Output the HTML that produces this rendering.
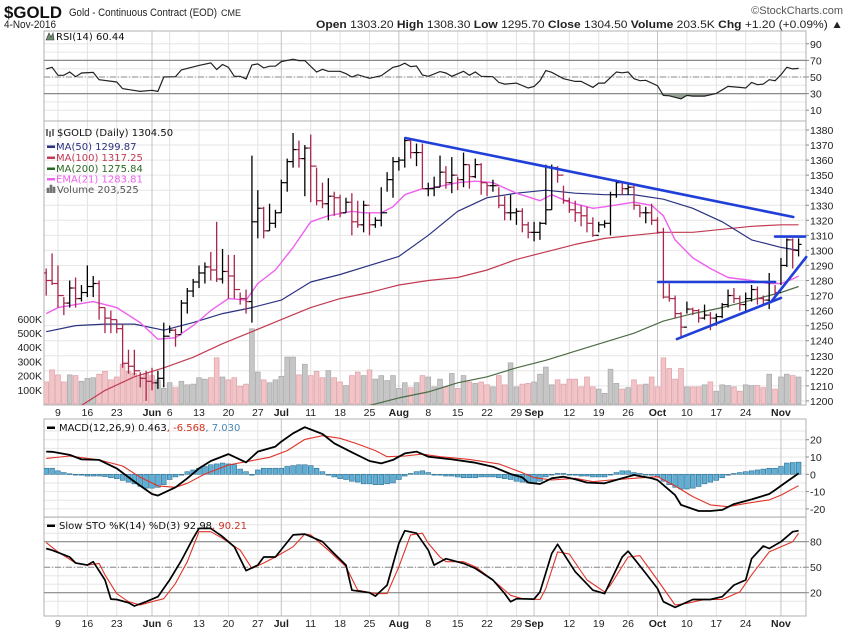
<!DOCTYPE html>
<html><head><meta charset="utf-8"><title>$GOLD chart</title>
<style>
html,body{margin:0;padding:0;background:#fff;}
svg{display:block;}
.ax{font-family:"Liberation Sans",sans-serif;font-size:10.5px;fill:#222;}
.lg{font-family:"DejaVu Sans","Liberation Sans",sans-serif;font-size:10px;}
</style></head>
<body>
<svg id="chart" width="850" height="633" viewBox="0 0 850 633" xmlns="http://www.w3.org/2000/svg">
  <rect x="0" y="0" width="850" height="633" fill="#fff"/>
  <text x="4" y="18" font-family="Liberation Sans, sans-serif" font-size="17" font-weight="bold" textLength="58" lengthAdjust="spacingAndGlyphs" fill="#111">$GOLD</text>
  <text x="69" y="16" font-family="Liberation Sans, sans-serif" font-size="11" textLength="148" lengthAdjust="spacingAndGlyphs" fill="#222">Gold - Continuous Contract (EOD)</text>
  <text x="221" y="16" font-family="Liberation Sans, sans-serif" font-size="9" fill="#222">CME</text>
  <text x="843" y="14" text-anchor="end" font-family="Liberation Sans, sans-serif" font-size="11" fill="#555">©StockCharts.com</text>
  <text x="4" y="28" font-family="Liberation Sans, sans-serif" font-size="11" textLength="52" lengthAdjust="spacingAndGlyphs" fill="#222">4-Nov-2016</text>
  <text x="316" y="28" font-family="Liberation Sans, sans-serif" font-size="11" fill="#222" textLength="527" lengthAdjust="spacingAndGlyphs"><tspan font-weight="bold">Open</tspan> 1303.20 <tspan font-weight="bold">High</tspan> 1308.30 <tspan font-weight="bold">Low</tspan> 1295.70 <tspan font-weight="bold">Close</tspan> 1304.50 <tspan font-weight="bold">Volume</tspan> 203.5K <tspan font-weight="bold">Chg</tspan> +1.20 (+0.09%) ▲</text>
  <g id="layers"></g>
</svg>
<script>
// ---------- data ----------
const closes=[1280,1278,1270,1265,1275,1268,1272,1276,1278,1262,
1255,1254,1248,1225,1223,1220,1215,1213,1212,1215,
1243,1247,1244,1265,1273,1279,1285,1289,1287,1281,
1286,1283,1274,1268,1266,1319,1328,1313,1318,1325,
1345,1359,1367,1361,1368,1356,1333,1331,1336,1335,
1325,1332,1319,1317,1330,1317,1320,1325,1347,1359,
1360,1373,1365,1365,1341,1341,1342,1352,1345,1350,
1347,1357,1349,1357,1345,1343,1343,1330,1325,1325,
1326,1317,1312,1312,1318,1327,1355,1350,1333,1327,
1325,1323,1318,1310,1317,1318,1337,1345,1341,1342,
1330,1325,1325,1320,1312,1269,1268,1258,1249,1261,
1260,1255,1257,1255,1256,1264,1270,1268,1264,1268,
1274,1268,1267,1279,1272,1290,1307,1300,1304];
const opens=[1285,1280,1278,1270,1265,1275,1268,1272,1276,1278,
1262,1255,1254,1248,1225,1223,1220,1215,1213,1212,
1215,1243,1247,1244,1265,1273,1279,1285,1289,1287,
1281,1286,1283,1274,1268,1266,1319,1328,1313,1318,
1325,1345,1359,1367,1361,1368,1356,1333,1331,1336,
1335,1325,1332,1319,1317,1330,1317,1320,1325,1347,
1359,1360,1373,1365,1365,1341,1341,1342,1352,1345,
1350,1347,1357,1349,1357,1345,1343,1343,1330,1325,
1325,1326,1317,1312,1312,1318,1327,1355,1350,1333,
1327,1325,1323,1318,1310,1317,1318,1337,1345,1341,
1342,1330,1325,1325,1320,1312,1269,1268,1258,1249,
1261,1260,1255,1257,1255,1256,1264,1270,1268,1264,
1268,1274,1268,1267,1279,1272,1290,1307,1300];
const highs=[1288,1298,1290,1269,1280,1282,1277,1290,1283,1280,
1262,1260,1254,1251,1234,1234,1219,1220,1222,1220,
1252,1250,1248,1267,1275,1281,1290,1292,1299,1319,
1301,1297,1297,1272,1274,1363,1340,1329,1331,1327,
1347,1361,1378,1373,1370,1377,1355,1345,1348,1339,
1337,1335,1338,1333,1333,1325,1322,1342,1352,1362,
1362,1375,1373,1371,1371,1345,1349,1363,1356,1362,
1349,1365,1357,1361,1358,1345,1347,1342,1336,1337,
1328,1328,1319,1319,1319,1357,1357,1356,1343,1335,
1333,1330,1329,1322,1319,1320,1339,1347,1345,1345,
1343,1330,1329,1331,1322,1315,1278,1270,1259,1266,
1262,1261,1264,1259,1258,1265,1274,1275,1270,1272,
1277,1276,1270,1285,1277,1295,1308,1308,1308];
const lows=[1270,1277,1262,1257,1262,1262,1266,1269,1269,1254,
1245,1245,1245,1222,1218,1217,1209,1200,1207,1208,
1209,1245,1236,1245,1258,1269,1275,1278,1280,1279,
1278,1268,1268,1264,1258,1252,1308,1308,1313,1315,
1325,1339,1355,1355,1336,1332,1330,1328,1320,1323,
1322,1325,1310,1315,1312,1310,1315,1316,1339,1335,
1353,1355,1361,1356,1341,1336,1336,1342,1341,1338,
1340,1342,1341,1348,1337,1336,1339,1328,1320,1320,
1317,1312,1308,1306,1307,1317,1327,1345,1331,1325,
1319,1316,1312,1309,1312,1315,1310,1335,1337,1337,
1327,1322,1318,1317,1311,1268,1266,1255,1242,1258,
1257,1252,1254,1247,1250,1255,1262,1265,1260,1260,
1266,1264,1264,1261,1269,1277,1289,1288,1296];
const volumesK=[155,240,205,155,205,200,160,180,185,210,
230,170,190,280,230,215,190,215,200,170,
110,150,115,160,135,140,185,175,185,325,
190,170,185,125,140,530,225,170,150,170,
195,330,330,205,280,200,230,185,235,185,
155,130,200,225,200,240,175,200,165,200,
110,150,115,150,200,190,120,175,120,215,
110,200,155,145,155,135,120,200,135,290,
120,140,145,155,210,260,135,170,140,175,
175,120,190,120,105,75,245,145,105,115,
170,135,140,190,120,325,250,175,250,120,
120,120,135,155,90,135,130,120,90,135,
130,130,115,210,105,190,210,200,190];
const ma50Days=[0,5,10,15,20,25,30,35,40,45,50,55,60,65,70,75,80,85,90,95,100,105,110,115,120,125,128];
const ma50Vals=[1246,1250,1251,1251,1247,1252,1258,1262,1267,1279,1284,1290,1296,1310,1326,1335,1338,1340,1338,1337,1337,1334,1328,1319,1307,1302,1300];
const ma100Days=[6,10,15,20,25,30,35,40,45,50,55,60,65,70,75,80,85,90,95,100,105,110,115,120,125,128];
const ma100Vals=[1197,1207,1216,1222,1229,1238,1246,1254,1262,1268,1272,1277,1280,1282,1287,1294,1299,1304,1308,1310,1312,1312,1314,1316,1317,1317];
const ma200Days=[55,60,65,70,75,80,85,90,95,100,105,110,115,120,125,128];
const ma200Vals=[1197,1202,1206,1212,1216,1222,1227,1233,1239,1245,1253,1258,1262,1267,1272,1276];
const emaDays=[0,2,5,8,12,16,19,22,25,28,31,34,36,39,42,45,48,52,54,57,59,61,64,65,70,73,76,80,84,86,89,93,95,100,103,105,107,110,113,116,120,123,125,127,128];
const emaVals=[1258,1262,1264,1266,1262,1252,1241,1242,1250,1260,1268,1267,1278,1287,1302,1319,1323,1326,1325,1325,1329,1337,1341,1341,1345,1346,1345,1338,1333,1337,1332,1328,1329,1332,1330,1323,1307,1295,1288,1282,1280,1278,1278,1281,1283];
// trendline annotations: [startDay, startPrice, endDay, endPrice]
const trendLines=[[61.1,1374.7,127.1,1322.2],[104.1,1279,124,1279],[107.3,1241.1,125,1268.4],[124,1309.2,129.1,1309.2],[123.3,1265.7,129.3,1295.6]];
const rsiDays=[0,1,2,3,4,5,6,8,9,12,13,16,18,19,20,22,23,26,28,29,30,31,32,33,34,35,36,37,38,39,40,42,43,44,46,47,48,50,51,52,53,55,57,59,60,61,62,63,64,65,67,68,69,71,72,73,74,76,77,78,80,82,83,84,85,86,88,90,91,93,94,95,97,98,99,100,101,102,104,105,106,108,109,110,112,114,116,118,119,120,121,122,123,124,125,126,127,128];
const rsiVals=[59.7,61.7,52,52,56,50.4,54.8,55.6,46.8,44,36,32.6,34,32.6,50,50.4,58.5,64,67,59,65,61.7,50.8,50.8,47.6,64.5,65.8,61,63,63,68.6,71.4,69.8,69.8,56,59.3,56.9,56.9,54,50,52.8,48.4,51.6,61.7,63.3,66.6,62.5,63.3,52.4,50.8,56.5,54.8,50.8,56.9,52,56,50.8,50.4,43.5,41.5,42.7,36.7,38.7,45.6,57.7,55.7,48,44.7,44.7,37.5,42.7,42.7,56,55,56,48,45.6,46,39.5,27.8,27.4,23.7,27.8,27,27,30.2,38.7,37.5,36.7,43.5,40.7,41.5,46.8,45.6,52.8,61.7,59.7,60.4];
const macdDays=[0,1,4,6,9,12,15,18,19,22,24,26,28,31,34,36,39,40,42,44,47,49,52,55,57,59,61,63,65,69,73,76,79,81,82,84,86,88,90,92,95,98,100,103,104,107,108,111,113,115,117,120,123,124,126,128];
const macdVals=[13.1,13,11.2,8.6,8.3,3.4,-4.2,-11.4,-12.3,-7.5,-2.3,3.4,7.7,11.7,6.9,13.1,16,18.9,23.7,27.2,23.3,17.9,12.7,7.7,6.3,8.3,12.1,13.1,10.2,8.6,6.7,4.4,0.2,-1.8,-4.8,-5.6,-2.3,-1.4,-2.9,-4.8,-5.2,-2.3,-0.4,-2.3,-3.3,-12,-17.7,-21.2,-21.2,-20.6,-17.2,-14.5,-11.4,-9.1,-4.2,0.5];
const signalDays=[0,4,9,13,16,19,22,24,27,31,34,38,41,44,47,50,53,56,58,61,64,67,72,77,81,83,86,90,93,96,100,104,107,110,113,116,119,123,125,128];
const signalVals=[9.2,10.6,8.3,4.8,-1.7,-6.7,-7.5,-5.2,0.2,5.4,7.3,9.8,13.7,20.2,22.3,20.8,17.5,13.7,10.2,10.6,11.7,10.2,8.6,6,0.9,-1.9,-3.3,-2.3,-4.3,-3.3,-2.3,-1.4,-6.7,-12.9,-17.7,-18.7,-16.8,-14.8,-12,-6.6];
const histVals=[3.5,3.5,2,1,0.3,-0.3,-0.5,-1,-1,-1,
-1.3,-2,-2.5,-3.5,-4.5,-5.5,-7,-8,-8,-7.5,
-6,-3,-1.5,0,1.5,2.5,3.5,4.5,5.5,6,
6.5,6,5.5,3,1.5,0,2.5,3.5,3.5,3.5,
3.5,4.5,5,5.5,5.5,5,3.5,1.5,0,-1.5,
-2.5,-3,-4,-4.5,-5.5,-5.5,-6,-6,-5.5,-5,
-3,-1,0.5,1.5,2,1,0,-0.5,-1,-1,
-1.5,-2,-2,-2,-1.5,-1.5,-1.5,-2,-2.5,-3,
-4,-4.5,-5,-5,-4,-1.5,0,0.5,0.5,0,
-0.5,-1,-1,-1.5,-1.5,-1.5,0,1,2,2,
1,0.5,0,-0.5,-1.5,-4,-6,-7.5,-8.5,-8.5,
-8,-7,-5.5,-4.5,-3.5,-2,-0.5,0.5,1,1.5,
2,2.5,3,3.5,3.5,4.5,6.5,6.8,7.0];
const stoKDays=[0,1,4,5,7,8,10,11,12,14,15,17,19,21,23,25,26,28,30,32,34,36,37,39,42,44,47,49,51,52,55,56,58,60,61,63,65,66,68,71,73,76,78,79,80,83,84,86,87,90,93,95,98,99,102,104,105,107,110,113,115,117,119,120,122,123,125,127,128];
const stoKVals=[72,70,62,55,52.5,56.5,35,12.5,12,8.2,4.3,9.4,15.3,35,58,84,95.7,95.7,86,74,46,52.5,62,62,88,89,80,66,52.5,23,20,16,29,78,93,90,70,52.5,60,54.5,48.6,35,19,9.4,13,12.5,21,66,77,44.7,23,19,62,69,42.7,25,9.4,2.7,12,12,15.3,29,35,60,75,72,80,91.8,93];
const stoDDays=[0,2,5,7,9,10,12,14,16,18,20,22,24,26,28,30,33,35,37,39,42,44,45,48,51,53,56,58,60,62,64,65,67,68,71,73,76,79,81,84,85,87,89,92,95,96,99,101,104,107,109,112,115,118,120,123,125,127,128];
const stoDVals=[79,68,55,52.5,54.5,41,19,9.4,5.5,9.4,13,31,56.5,91.8,91.8,84,70,48.6,55,62,74,89,88,70,50.6,23,19,19,50.6,88,90,78,62,56.5,56.5,50.6,35,17,13,12,25,68,65.5,35,21,29,62,63.5,35,5.5,7.5,12,12,21,41,68,74,80,90];
const xTickDays=[2,7,12,18,21,26,31,36,40,45,50,55,60,65,70,75,80,83,89,94,99,104,109,114,119,125];
const xTickLabels=["9","16","23","Jun","6","13","20","27","Jul","11","18","25","Aug","8","15","22","29","Sep","12","19","26","Oct","10","17","24","Nov"];
const priceTicks=[1200,1210,1220,1230,1240,1250,1260,1270,1280,1290,1300,1310,1320,1330,1340,1350,1360,1370,1380];
const volTicks=[100,200,300,400,500,600];
const rsiTicks=[90,70,50,30,10];
const macdTicks=[20,10,0,-10,-20];
const stoTicks=[80,50,20];

// ---------- scales ----------
const L=44, R=806;
const xDay=d=>46.2+d*5.878;
const yP=p=>130+(1380-p)*1.505;
const yVol=v=>404-v*0.142;
const yRSI=v=>77-(v-50)*0.83;
const yMACD=v=>474.3-v*1.73;
const ySTO=v=>592.7-(v-20)*0.85;
const panels={rsi:[31,121],main:[121,405],macd:[419,517],sto:[517,616]};

const NS="http://www.w3.org/2000/svg";
const root=document.getElementById('layers');
function mk(tag,attrs,parent){const e=document.createElementNS(NS,tag);for(const k in attrs)e.setAttribute(k,attrs[k]);(parent||root).appendChild(e);return e;}
function grp(parent){return mk('g',{},parent);}

const defs=mk('defs',{});
for(const k in panels){const cp=mk('clipPath',{id:'clip-'+k},defs);mk('rect',{x:L,y:panels[k][0],width:R-L,height:panels[k][1]-panels[k][0]},cp);}

function panelFrame(key,name,hLines,yfn){
  const [t,b]=panels[key];
  const g=grp();
  
  
  hLines.forEach(v=>{const y=yfn(v);const ln=mk('line',{x1:L,x2:R,y1:y,y2:y,stroke:'#e6e6e6','stroke-width':1},g);
    
    });
  xTickDays.forEach((d,i)=>{const x=xDay(d);const isM=isNaN(+xTickLabels[i]);
    const ln=mk('line',{x1:x,x2:x,y1:t,y2:b,stroke:isM?'#c4c4c4':'#e2e2e2','stroke-width':1},g);
    
    });
  const fr=mk('rect',{x:L,y:t,width:R-L,height:b-t,fill:'none',stroke:'#b0b0b0','stroke-width':1},g);
  
  
  return g;
}
const rng=(a,b,s)=>{const r=[];for(let v=a;v<=b+1e-9;v+=s)r.push(v);return r;};
panelFrame('rsi','rsi-panel',rng(10,90,10),yRSI);
panelFrame('main','price-panel',priceTicks,yP);
panelFrame('macd','macd-panel',rng(-25,25,5),yMACD);
panelFrame('sto','stochastic-panel',rng(10,100,10),ySTO);

function yLabels(ticks,yfn,name){
  const g=grp();
  
  
  ticks.forEach(v=>{const y=yfn(v);
    mk('line',{x1:R,x2:R+3,y1:y,y2:y,stroke:'#888'},g);
    const t=mk('text',{x:R+4,y:y+4,class:'ax'},g);t.textContent=v;
    
    });
}
yLabels(rsiTicks,yRSI,'rsi-y-axis');
yLabels(priceTicks,yP,'price-y-axis');
yLabels(macdTicks,yMACD,'macd-y-axis');
yLabels(stoTicks,ySTO,'stochastic-y-axis');
(function(){const g=grp();
  
  
  volTicks.forEach(v=>{const t=mk('text',{x:42,y:yVol(v)+4,'text-anchor':'end',class:'ax'},g);t.textContent=v+'K';
    
    });})();

function xLabels(y,name){const g=grp();
  
  
  xTickDays.forEach((d,i)=>{const lab=xTickLabels[i];const isM=isNaN(+lab);
    const t=mk('text',{x:xDay(d),y:y,'text-anchor':'middle',class:'ax','font-weight':isM?'bold':'normal'},g);t.textContent=lab;
    
    });}
xLabels(416,'price-x-axis');
xLabels(627,'bottom-x-axis');

(function(){const g=grp();
  
  
  [70,30].forEach(v=>mk('line',{x1:L,x2:R,y1:yRSI(v),y2:yRSI(v),stroke:'#8a8a8a','stroke-width':1.2},g));
  mk('line',{x1:L,x2:R,y1:yRSI(50),y2:yRSI(50),stroke:'#8a8a8a','stroke-width':1,'stroke-dasharray':'6,2,1,2'},g);})();
(function(){const g=grp();g.setAttribute('clip-path','url(#clip-rsi)');
  let d='';rsiDays.forEach((day,i)=>{const v=Math.min(rsiVals[i],30);d+=(i?'L':'M')+xDay(day).toFixed(1)+','+yRSI(v).toFixed(1);});
  d+='L'+xDay(rsiDays[rsiDays.length-1]).toFixed(1)+','+yRSI(30)+'L'+xDay(rsiDays[0]).toFixed(1)+','+yRSI(30)+'Z';
  const f=mk('path',{d:d,fill:'#7d8c7d',opacity:0.8},g);
  
  
  const pts=rsiDays.map((day,i)=>xDay(day).toFixed(1)+','+yRSI(rsiVals[i]).toFixed(1)).join(' ');
  const pl=mk('polyline',{points:pts,fill:'none',stroke:'#222','stroke-width':1.2},g);
  
  })();

(function(){const g=grp();g.setAttribute('clip-path','url(#clip-main)');
  
  
  volumesK.forEach((v,i)=>{const up=i===0?closes[0]>=opens[0]:closes[i]>=closes[i-1];
    const y=yVol(v);
    const r=mk('rect',{x:xDay(i)-2.4,y:y,width:4.8,height:404-y,fill:up?'#c6c6c6':'#f2c4c8',stroke:up?'#a8a8a8':'#dca0a6','stroke-width':0.7},g);
    
    });})();

function seriesLine(days,vals,yfn,clip,color,w,name){
  const pts=days.map((d,i)=>xDay(d).toFixed(1)+','+yfn(vals[i]).toFixed(1)).join(' ');
  const pl=mk('polyline',{points:pts,fill:'none',stroke:color,'stroke-width':w,'clip-path':'url(#clip-'+clip+')','stroke-linejoin':'round'});
  
  
  return pl;
}
seriesLine(ma200Days,ma200Vals,yP,'main','#4d6b45',1.2,'ma200-line');
seriesLine(ma100Days,ma100Vals,yP,'main','#c23a52',1.2,'ma100-line');
seriesLine(ma50Days,ma50Vals,yP,'main','#2b3280',1.2,'ma50-line');
seriesLine(emaDays,emaVals,yP,'main','#ee60ee',1.4,'ema21-line');

(function(){const g=grp();g.setAttribute('clip-path','url(#clip-main)');
  
  
  closes.forEach((c,i)=>{const up=i===0?c>=opens[0]:c>=closes[i-1];
    const col=up?'#000':'#a8264a';const x=xDay(i);
    const b=grp(g);
    
    
    mk('line',{x1:x,x2:x,y1:yP(highs[i]),y2:yP(lows[i]),stroke:col,'stroke-width':1.3},b);
    mk('line',{x1:x-3,x2:x,y1:yP(opens[i]),y2:yP(opens[i]),stroke:col,'stroke-width':1.2},b);
    mk('line',{x1:x,x2:x+3,y1:yP(c),y2:yP(c),stroke:col,'stroke-width':1.2},b);});})();

(function(){const g=grp();
  
  
  trendLines.forEach(t=>{const ln=mk('line',{x1:xDay(t[0]),y1:yP(t[1]),x2:xDay(t[2]),y2:yP(t[3]),stroke:'#1f3fd8','stroke-width':2.6,'stroke-linecap':'round'},g);
    
    });})();

(function(){const g=grp();g.setAttribute('clip-path','url(#clip-macd)');
  
  
  const z=yMACD(0);
  histVals.forEach((v,i)=>{const y=yMACD(v);
    const r=mk('rect',{x:xDay(i)-2.4,y:Math.min(y,z),width:4.8,height:Math.max(Math.abs(y-z),0.8),fill:'#5eaed6',stroke:'#2f6f8f','stroke-width':0.6},g);
    
    });})();
seriesLine(signalDays,signalVals,yMACD,'macd','#e0342a',1.1,'macd-signal-line');
seriesLine(macdDays,macdVals,yMACD,'macd','#000',1.8,'macd-line');

(function(){const g=grp();
  
  
  [80,20].forEach(v=>mk('line',{x1:L,x2:R,y1:ySTO(v),y2:ySTO(v),stroke:'#8a8a8a','stroke-width':1.2},g));
  mk('line',{x1:L,x2:R,y1:ySTO(50),y2:ySTO(50),stroke:'#8a8a8a','stroke-width':1,'stroke-dasharray':'6,2,1,2'},g);})();
seriesLine(stoDDays,stoDVals,ySTO,'sto','#e0342a',1.1,'stochastic-d-line');
seriesLine(stoKDays,stoKVals,ySTO,'sto','#000',1.7,'stochastic-k-line');

function legend(x,y,parts,name){
  const t=mk('text',{x:x,y:y,class:'lg'});
  
  
  parts.forEach(p=>{const s=mk('tspan',{fill:p[1]},t);s.textContent=p[0];});
  return t;
}
function swatch(x,y,col,name){const r=mk('rect',{x:x,y:y,width:8,height:2.5,fill:col});
  
  }
(function(){const p=mk('path',{d:'M46,40 L49,33 L51,37 L53,33 L54,40 Z',fill:'#6f8f6f',stroke:'#333','stroke-width':0.6});
  
  })();
legend(56,40,[['RSI(14) 60.44','#111']],'rsi-legend');
legend(57,136,[['$GOLD (Daily) 1304.50','#111']],'price-legend');
(function(){const p=mk('path',{d:'M47,129 v7 M50,131 v6 M53,129 v7',stroke:'#222','stroke-width':1.2,fill:'none'});
  
  })();
swatch(47,145.5,'#2b3280','ma50-swatch');
legend(56,150,[['MA(50) 1299.87','#2b3280']],'ma50-legend');
swatch(47,156.5,'#c23a52','ma100-swatch');
legend(56,161,[['MA(100) 1317.25','#c23a52']],'ma100-legend');
swatch(47,167.5,'#2a6a22','ma200-swatch');
legend(56,172,[['MA(200) 1275.84','#2a6a22']],'ma200-legend');
swatch(47,178,'#ee60ee','ema21-swatch');
legend(56,182.5,[['EMA(21) 1283.81','#ee60ee']],'ema21-legend');
(function(){const p=mk('path',{d:'M47,193 v-5 h2 v5 M50,193 v-8 h2 v8 M53,193 v-6 h2 v6',fill:'#777',stroke:'#666','stroke-width':0.6});
  
  })();
legend(57,193,[['Volume 203,525','#555']],'volume-legend');
swatch(47,426.5,'#000','macd-swatch');
legend(59,431,[['MACD(12,26,9) 0.463','#111'],[', -6.568','#d23020'],[', 7.030','#4a86b0']],'macd-legend');
swatch(47,524.5,'#000','stochastic-swatch');
legend(59,529,[['Slow STO %K(14) %D(3) 92.98','#111'],[', 90.21','#d23020']],'stochastic-legend');
</script>
</body></html>
